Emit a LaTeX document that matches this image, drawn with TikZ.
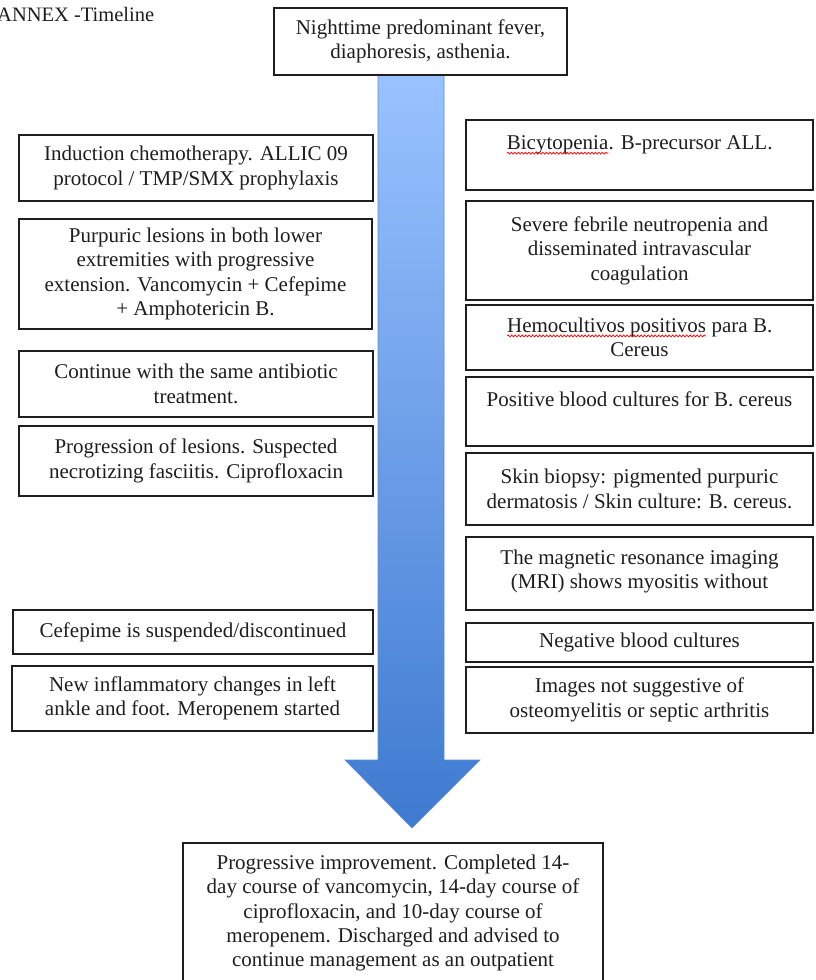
\documentclass[tikz,border=0pt]{standalone}
\usepackage{fontspec}
\setmainfont{Liberation Serif}
\usetikzlibrary{decorations.pathmorphing}
\newcommand\spellwave[1]{\tikz[baseline=(sw.base)]{\node[draw=none, fill=none, minimum width=0pt, minimum height=0pt,
    inner sep=0pt, outer sep=0pt, align=left] (sw) {#1};
  \draw[red, line width=0.7pt, decorate, decoration={snake, amplitude=1pt, segment length=3.5pt}]
    ([yshift=-3.5pt]sw.base west) -- ([yshift=-3.5pt]sw.base east);}}
\definecolor{arrowtop}{RGB}{153,194,255}
\definecolor{arrowbot}{RGB}{62,122,208}
\definecolor{arrowedge}{RGB}{90,140,215}
\definecolor{ink}{RGB}{30,30,30}
\tikzset{
  box/.style={draw=ink, line width=1.4pt, align=center, text=ink,
    font=\fontsize{21}{24.5}\selectfont, inner sep=0pt},
}
\begin{document}
\begin{tikzpicture}[x=1pt,y=-1pt]
\useasboundingbox (0,0) rectangle (815,980);
\clip (0,0) rectangle (815,980);
\fill[white] (0,0) rectangle (815,980);

% title
\node[anchor=west, inner sep=0pt, text=ink, font=\fontsize{20.5}{24}\selectfont] (title) at (-3,14) {ANNEX -Timeline};

% arrow
\shade[top color=arrowtop, bottom color=arrowbot, draw=arrowedge, line width=0.6pt]
  (378,75) -- (444,75) -- (444,760) -- (480,760) -- (412,828) -- (345,760) -- (378,760) -- cycle;

% top box
\node[box, fill=white, minimum width=293, minimum height=67] (top) at (420.5,41.5)
  {Nighttime predominant fever,\\ diaphoresis, asthenia.};

% left column
\node[box, minimum width=354, minimum height=66] (l1) at (196,168)
  {Induction chemotherapy. ALLIC 09\\ protocol / TMP/SMX prophylaxis};
\node[box, minimum width=353, minimum height=110] (l2) at (195.5,274)
  {Purpuric lesions in both lower\\ extremities with progressive\\ extension. Vancomycin + Cefepime\\ + Amphotericin B.};
\node[box, minimum width=354, minimum height=66] (l3) at (196,384)
  {Continue with the same antibiotic\\ treatment.};
\node[box, minimum width=354, minimum height=70] (l4) at (196,461)
  {Progression of lesions. Suspected\\ necrotizing fasciitis. Ciprofloxacin};
\node[box, minimum width=360, minimum height=44] (l5) at (193,632)
  {Cefepime is suspended/discontinued};
\node[box, minimum width=361, minimum height=65] (l6) at (192.5,698.5)
  {New inflammatory changes in left\\ ankle and foot. Meropenem started};

% right column
\node[box, minimum width=347, minimum height=70] (r1) at (639.5,155)
  {\spellwave{Bicytopenia}. B-precursor ALL.\\ \mbox{}};
\node[box, minimum width=347, minimum height=99] (r2) at (639.5,250.5)
  {Severe febrile neutropenia and\\ disseminated intravascular\\ coagulation};
\node[box, minimum width=347, minimum height=65] (r3) at (639.5,337.5)
  {\spellwave{Hemocultivos positivos} para B.\\ Cereus};
\node[box, minimum width=347, minimum height=69] (r4) at (639.5,411.5)
  {Positive blood cultures for B. cereus\\ \mbox{}};
\node[box, minimum width=347, minimum height=72] (r5) at (639.5,489)
  {Skin biopsy: pigmented purpuric\\ dermatosis / Skin culture: B. cereus.};
\node[box, minimum width=347, minimum height=73] (r6) at (639.5,573.5)
  {The magnetic resonance imaging\\ (MRI) shows myositis without\\[-16pt] \mbox{}};
\node[box, minimum width=347, minimum height=39] (r7) at (639.5,642.5)
  {Negative blood cultures};
\node[box, minimum width=347, minimum height=66] (r8) at (639.5,700)
  {Images not suggestive of\\ osteomyelitis or septic arthritis};

% bottom box
\node[box, minimum width=420, minimum height=140, font=\fontsize{21}{24.25}\selectfont] (bottom) at (393,913)
  {Progressive improvement. Completed 14-\\ day course of vancomycin, 14-day course of\\ ciprofloxacin, and 10-day course of\\ meropenem. Discharged and advised to\\ continue management as an outpatient};
\end{tikzpicture}
\end{document}
